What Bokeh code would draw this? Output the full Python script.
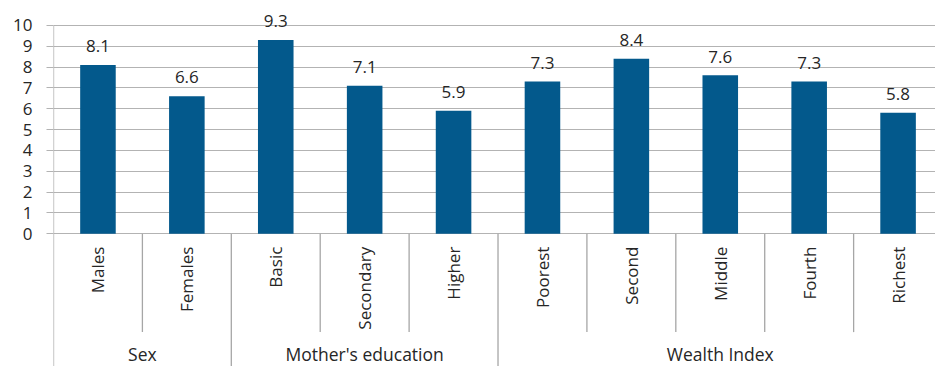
import math
from bokeh.plotting import figure
from bokeh.models import Range1d, FixedTicker, ColumnDataSource
from bokeh.core.properties import value
from bokeh.embed import file_html
from bokeh.resources import INLINE

categories = ["Males", "Females", "Basic", "Secondary", "Higher",
              "Poorest", "Second", "Middle", "Fourth", "Richest"]
values = [8.1, 6.6, 9.3, 7.1, 5.9, 7.3, 8.4, 7.6, 7.3, 5.8]
groups = ["Sex", "Mother's education", "Wealth Index"]
group_sizes = [2, 3, 5]
y_ticks = [0, 1, 2, 3, 4, 5, 6, 7, 8, 9, 10]

FONT = "Open Sans"
TXT = "#262626"
BAR = "#03598C"
GRID = "#b3b3b3"
SEP = "#a6a6a6"

Y_BOTTOM = -6.37
Y_TOP = 11.0
X_END = 9.921

p = figure(width=935, height=366, output_backend="svg", toolbar_location=None,
           x_range=Range1d(0, X_END), y_range=Range1d(Y_BOTTOM, Y_TOP),
           x_axis_location=None, min_border_left=53, min_border_right=0,
           min_border_top=4, min_border_bottom=0)
p.outline_line_color = None
p.background_fill_color = "white"
p.border_fill_color = "white"

# y axis
ax = p.yaxis[0]
ax.ticker = FixedTicker(ticks=y_ticks)
ax.axis_line_color = None
ax.major_tick_line_color = GRID
ax.major_tick_out = 7
ax.major_tick_in = 0
ax.minor_tick_line_color = None
ax.major_label_standoff = 14
ax.major_label_text_font = FONT
ax.major_label_text_font_size = "17px"
ax.major_label_text_color = TXT

p.xgrid.visible = False
p.ygrid.ticker = FixedTicker(ticks=y_ticks)
p.ygrid.grid_line_color = GRID
p.ygrid.grid_line_width = 1.2

n = len(categories)
xs = [i + 0.5 for i in range(n)]
src = ColumnDataSource(dict(x=xs, top=values, cat=categories,
                            lab=["%.1f" % v for v in values],
                            ly=[v + 0.9 for v in values]))

p.vbar(x="x", top="top", bottom=0, width=0.4, source=src,
       fill_color=BAR, line_color=None)

p.text(x="x", y="ly", text="lab", source=src, text_align="center",
       text_baseline="middle", text_font=value(FONT),
       text_font_size="17px", text_color=TXT)

# rotated category labels
p.text(x="x", y=-0.62, text="cat", source=src, angle=math.pi / 2,
       text_align="right", text_baseline="middle", text_font=value(FONT),
       text_font_size="17px", text_color=TXT)

# separators
group_edges = [0]
for s in group_sizes:
    group_edges.append(group_edges[-1] + s)
inner = [k for k in range(1, n) if k not in group_edges]
p.segment(x0=inner, y0=[0] * len(inner), x1=inner, y1=[-4.72] * len(inner),
          line_color=SEP, line_width=1.3)
outer = [k for k in group_edges if k < n]
p.segment(x0=outer, y0=[Y_BOTTOM] * len(outer), x1=outer,
          y1=[10 if k == 0 else 0 for k in outer],
          line_color=SEP, line_width=1.3)

# group labels
gx = [(group_edges[i] + group_edges[i + 1]) / 2 for i in range(len(groups))]
p.text(x=gx, y=[-5.78] * len(groups), text=groups, text_align="center",
       text_baseline="middle", text_font=value(FONT),
       text_font_size="17.5px", text_color=TXT)

open("out.html", "w").write(file_html(p, INLINE))
